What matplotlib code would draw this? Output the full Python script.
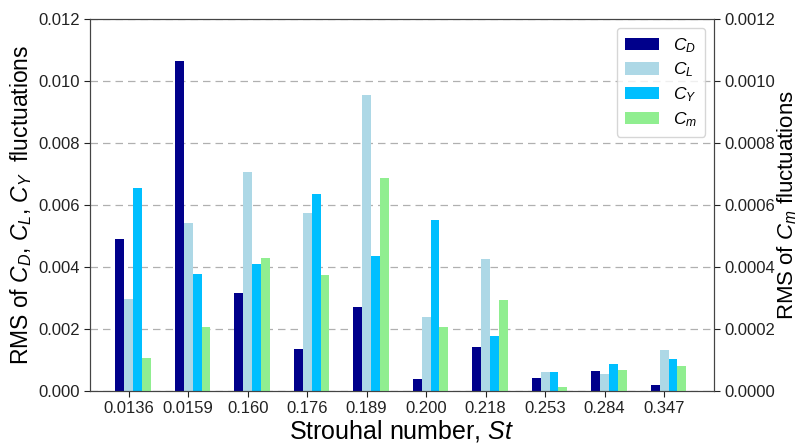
import matplotlib
matplotlib.use("Agg")
import matplotlib.pyplot as plt
import numpy as np

plt.rcParams['font.family'] = ['Liberation Sans', 'DejaVu Sans']
plt.rcParams['mathtext.fontset'] = 'custom'
plt.rcParams['mathtext.rm'] = 'Liberation Sans'
plt.rcParams['mathtext.it'] = 'Liberation Sans:italic'

categories = ['0.0136', '0.0159', '0.160', '0.176', '0.189', '0.200', '0.218', '0.253', '0.284', '0.347']
cd = [0.0049, 0.01065, 0.00315, 0.00137, 0.0027, 0.00040, 0.00143, 0.00043, 0.00063, 0.00019]
cl = [0.00297, 0.00541, 0.00706, 0.00573, 0.00955, 0.00240, 0.00425, 0.00060, 0.00056, 0.00132]
cy = [0.00656, 0.00378, 0.00410, 0.00635, 0.00437, 0.00552, 0.00178, 0.00061, 0.00087, 0.00104]
cm = [0.000105, 0.000206, 0.000430, 0.000374, 0.000688, 0.000206, 0.000292, 0.000012, 0.000068, 0.000082]

x = np.arange(len(categories))
w = 0.15

fig = plt.figure(figsize=(8.01, 4.43), dpi=100)
ax = fig.add_axes([0.1124, 0.1174, 0.7790, 0.8397])
ax2 = ax.twinx()

b1 = ax.bar(x - w, cd, w, color='#00008B', label='$C_D$')
b2 = ax.bar(x, cl, w, color='#ADD8E6', label='$C_L$')
b3 = ax.bar(x + w, cy, w, color='#00BFFF', label='$C_Y$')
b4 = ax2.bar(x + 2 * w, cm, w, color='#90EE90', label='$C_m$')

ax.set_xlim(-0.65, 9.84)
ax.set_ylim(0, 0.012)
ax2.set_ylim(0, 0.0012)
ax.set_yticks(np.arange(0, 0.0121, 0.002))
ax.set_yticklabels(['%.3f' % v for v in np.arange(0, 0.0121, 0.002)])
ax2.set_yticks(np.arange(0, 0.00121, 0.0002))
ax2.set_yticklabels(['%.4f' % v for v in np.arange(0, 0.00121, 0.0002)])
ax.set_xticks(x)
ax.set_xticklabels(categories)

ax.set_axisbelow(True)
ax.yaxis.grid(True, linestyle=(0, (6, 4)), color='#b0b0b0', linewidth=0.9)

for a in (ax, ax2):
    a.tick_params(labelsize=12, colors='#222222', length=4)
    for s in a.spines.values():
        s.set_color('#444444')

ax.set_xlabel('Strouhal number, $St$', fontsize=18, labelpad=1)
ax.set_ylabel('RMS of $C_D$, $C_L$, $C_Y$  fluctuations', fontsize=16.5, labelpad=3)
ax2.set_ylabel('RMS of $C_m$ fluctuations', fontsize=16, labelpad=0)

handles = [b1, b2, b3, b4]
ax.legend(handles, [h.get_label() for h in handles], loc='upper right',
          fontsize=12.5, handlelength=2.0, borderpad=0.45, labelspacing=0.35,
          borderaxespad=0, bbox_to_anchor=(0.9856, 0.9758))

fig.savefig('out.png', dpi=100)
